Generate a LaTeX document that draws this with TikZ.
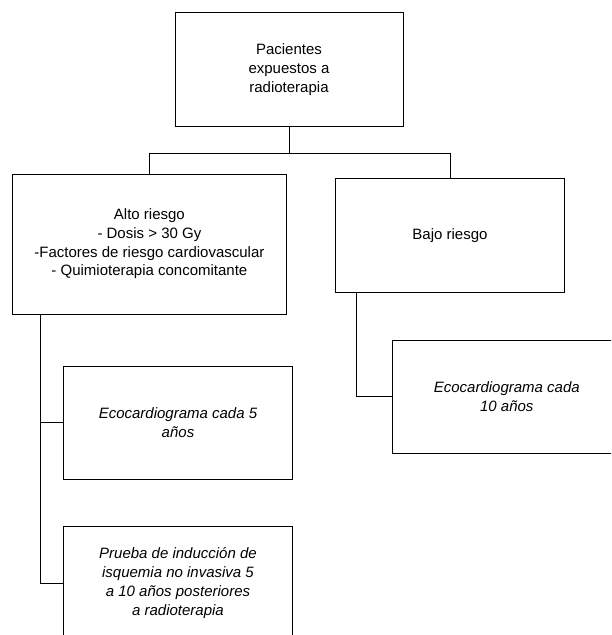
\documentclass[tikz,border=0pt]{standalone}
\usepackage{fontspec}
\setmainfont{Liberation Sans}
\begin{document}
\begin{tikzpicture}[x=1pt,y=-1pt,
  box/.style={draw=black, line width=1pt, rectangle, align=center, inner sep=0pt,
    font=\fontsize{15}{18.7}\selectfont},
  link/.style={draw=black, line width=1pt}]
\useasboundingbox (0,0) rectangle (611,635);
\clip (0,0) rectangle (611,635);
\node[box, minimum width=228pt, minimum height=114pt] (top) at (289,69.7)
  {Pacientes\\expuestos a\\radioterapia};
\node[box, minimum width=274pt, minimum height=140pt] (alto) at (149.4,244)
  {Alto riesgo\\- Dosis > 30 Gy\\-Factores de riesgo cardiovascular\\- Quimioterapia concomitante};
\node[box, minimum width=228.6pt, minimum height=114pt] (bajo) at (450,235.7)
  {Bajo riesgo};
\node[box, minimum width=229.4pt, minimum height=113.3pt] (eco5) at (178,422.7)
  {\itshape Ecocardiograma cada 5\\\itshape años};
\node[box, minimum width=229.4pt, minimum height=114pt] (prueba) at (178,583)
  {\itshape Prueba de inducción de\\\itshape isquemia no invasiva 5\\\itshape a 10 años posteriores\\\itshape a radioterapia};
\node[box, minimum width=229pt, minimum height=113.3pt] (eco10) at (506.8,396.7)
  {\itshape Ecocardiograma cada\\\itshape 10 años};
\draw[link] (top.south) -- ++(0,26.6) coordinate (j);
\draw[link] (alto.north) |- (j) -| (bajo.north);
\coordinate (aroot) at (40,314);
\draw[link] (aroot) |- (eco5.west);
\draw[link] (aroot) |- (prueba.west);
\coordinate (broot) at (356.7,292.7);
\draw[link] (broot) |- (eco10.west);
\end{tikzpicture}
\end{document}
